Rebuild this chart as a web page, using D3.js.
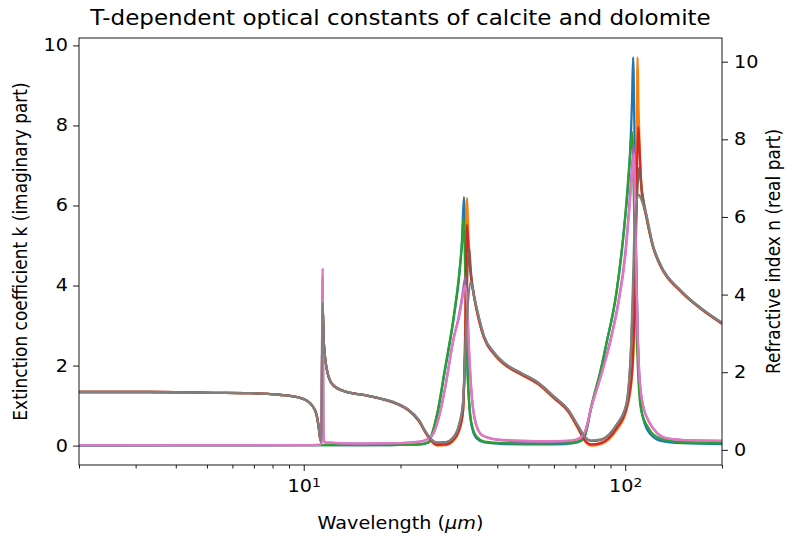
<!DOCTYPE html>
<html>
<head>
<meta charset="utf-8">
<script src="https://cdn.jsdelivr.net/npm/d3@7"></script>
<style>
  body { margin: 0; background: #fff; }
  text { font-family: "DejaVu Sans", sans-serif; }
</style>
</head>
<body>
<div id="chart"></div>
<script>
// values: [wavelength (um), value]
// k = extinction coefficient (left axis), n = refractive index (right axis)
var kBlue = [[2,0],[10,0.01],[15,0.01],[20,0.02],[23,0.03],[24.5,0.08],[25.0,0.25],[26.0,0.75],[27.4,1.8],[29.3,3.2],[30.5,4.3],[31.1,5.2],[31.5,6.21],[31.9,4.4],[32.3,2.1],[32.8,0.9],[33.5,0.4],[34.5,0.18],[36.5,0.08],[42,0.04],[55,0.03],[65,0.04],[71,0.08],[74,0.16],[75,0.25],[78.4,0.95],[84.2,1.92],[87.4,2.54],[93.8,3.79],[99.3,5.46],[103.2,7.1],[105,8.6],[105.8,9.7],[106.8,8.0],[108,5.0],[109.4,2.67],[111.9,1.0],[115,0.55],[118.5,0.33],[129,0.12],[150,0.06],[200,0.04]];
var nOrange = [[2,1.49],[3.3,1.49],[5.2,1.47],[6.8,1.46],[8.4,1.42],[9.4,1.37],[10.1,1.29],[10.6,1.15],[10.95,0.92],[11.1,0.66],[11.25,0.3],[11.35,0.2],[11.45,3.7],[11.55,2.75],[11.85,2.0],[12.3,1.68],[13.5,1.5],[15.5,1.41],[17.1,1.33],[19.4,1.19],[21.2,1.01],[22.8,0.74],[24.0,0.42],[24.9,0.22],[26.0,0.11],[27.7,0.12],[29.1,0.22],[30.4,0.48],[31.3,1.0],[31.7,2.5],[32.0,5.2],[32.2,6.49],[32.5,5.6],[33.0,4.6],[33.7,4.05],[34.5,3.6],[36.4,2.88],[39.1,2.46],[42.0,2.2],[47.4,1.94],[53.6,1.69],[60.0,1.33],[66.5,0.98],[71.6,0.52],[74.9,0.22],[78.4,0.11],[84.2,0.15],[93.8,0.5],[100.7,1.0],[105,1.9],[107.5,4.2],[108.6,7.5],[109.2,10.11],[109.9,8.9],[111,7.6],[112.6,6.7],[116,6.05],[121.9,5.24],[129,4.72],[149,4.08],[172,3.63],[200,3.25]];
var kGreen = [[2,0.01],[10,0.01],[15,0.01],[20,0.02],[23,0.03],[24.5,0.09],[25.0,0.27],[26.0,0.8],[27.4,1.85],[29.3,3.25],[30.5,4.35],[31.1,5.1],[31.4,5.7],[31.9,3.8],[32.3,1.9],[32.8,0.95],[33.5,0.45],[34.5,0.22],[36.5,0.1],[42,0.06],[55,0.05],[65,0.06],[71,0.1],[74,0.18],[75,0.27],[78.4,0.98],[84.2,1.95],[87.4,2.56],[93.8,3.8],[99.3,5.46],[103.2,7.1],[105.1,7.83],[106.5,6.0],[108,3.5],[110,1.6],[112,0.9],[118.5,0.42],[129,0.17],[150,0.09],[200,0.06]];
var nRed = [[2,1.49],[3.3,1.49],[5.2,1.47],[6.8,1.46],[8.4,1.42],[9.4,1.37],[10.1,1.29],[10.6,1.15],[10.95,0.92],[11.1,0.66],[11.25,0.3],[11.35,0.2],[11.45,3.7],[11.55,2.75],[11.85,2.0],[12.3,1.68],[13.5,1.5],[15.5,1.41],[17.1,1.33],[19.4,1.19],[21.2,1.02],[22.8,0.75],[24.0,0.43],[24.9,0.24],[26.0,0.13],[27.7,0.14],[29.1,0.25],[30.4,0.5],[31.3,1.0],[31.8,3.0],[32.2,5.8],[32.6,5.1],[33.1,4.5],[33.7,4.05],[34.5,3.6],[36.4,2.88],[39.1,2.47],[42.0,2.21],[47.4,1.95],[53.6,1.7],[60.0,1.34],[66.5,0.99],[71.6,0.54],[74.9,0.25],[78.4,0.14],[84.2,0.18],[93.8,0.55],[100.7,1.05],[105,2.0],[107.5,4.5],[109.0,7.5],[109.8,8.32],[110.6,7.9],[112.6,6.6],[116,6.05],[121.9,5.24],[129,4.72],[149,4.08],[172,3.63],[200,3.25]];
var kPurple = [[2,0.01],[10,0.01],[11.2,0.02],[11.35,0.05],[11.45,4.2],[11.52,0.3],[11.6,0.08],[15,0.05],[20,0.06],[22.5,0.09],[24.0,0.14],[25.3,0.3],[26.5,0.8],[27.4,1.35],[29.3,2.7],[30.4,3.25],[31.2,3.8],[31.8,4.2],[32.2,3.7],[32.5,2.8],[33.2,1.4],[34.3,0.55],[36,0.25],[40,0.15],[50,0.1],[60,0.1],[68,0.12],[72,0.18],[75,0.35],[78.4,0.95],[84.2,1.78],[90,2.65],[95,3.55],[100,4.8],[103,6.0],[105.5,7.2],[106.3,7.5],[107.5,5.6],[109,3.2],[110.5,1.85],[113,1.1],[118.5,0.6],[125,0.33],[135,0.18],[160,0.13],[200,0.12]];
var nBrown = [[2,1.49],[3.3,1.49],[5.2,1.47],[6.8,1.46],[8.4,1.42],[9.4,1.37],[10.1,1.29],[10.6,1.15],[10.95,0.92],[11.1,0.66],[11.25,0.3],[11.35,0.2],[11.45,3.75],[11.55,2.75],[11.85,2.0],[12.3,1.68],[13.5,1.5],[15.5,1.41],[17.1,1.33],[19.4,1.2],[21.2,1.03],[22.8,0.77],[24.0,0.45],[24.9,0.27],[26.0,0.18],[27.7,0.19],[29.1,0.3],[30.4,0.62],[31.3,1.2],[31.9,2.9],[32.3,4.6],[32.7,5.2],[33.1,4.6],[34.0,3.9],[34.8,3.52],[36.4,2.92],[39.1,2.5],[42.0,2.24],[47.4,1.98],[53.6,1.73],[60.0,1.37],[66.5,1.03],[71.6,0.59],[74.9,0.33],[78.4,0.23],[84.2,0.26],[93.8,0.63],[100.7,1.15],[104.3,2.6],[106.5,4.6],[108.5,6.3],[110.6,7.27],[112.2,6.8],[116,6.1],[121.9,5.27],[129,4.75],[149,4.1],[172,3.65],[200,3.27]];
var kPink = [[2,0.01],[10,0.01],[11.2,0.02],[11.35,0.05],[11.45,4.41],[11.52,0.3],[11.6,0.08],[15,0.05],[20,0.06],[22.5,0.09],[24.0,0.14],[25.3,0.3],[26.5,0.8],[27.4,1.35],[29.3,2.7],[30.4,3.2],[31.2,3.7],[31.8,4.0],[32.2,3.6],[32.5,2.8],[33.2,1.4],[34.3,0.55],[36,0.25],[40,0.15],[50,0.12],[60,0.11],[68,0.13],[72,0.18],[75,0.35],[78.4,0.95],[84.2,1.75],[90,2.6],[95,3.5],[100,4.7],[103,5.9],[105.5,7.0],[106.5,7.3],[107.5,5.5],[109,3.2],[110.5,1.85],[113,1.1],[118.5,0.6],[125,0.33],[135,0.18],[160,0.13],[200,0.12]];
var nGray = [[2,1.49],[3.3,1.49],[5.2,1.47],[6.8,1.46],[8.4,1.42],[9.4,1.37],[10.1,1.29],[10.6,1.15],[10.95,0.92],[11.1,0.66],[11.25,0.3],[11.35,0.2],[11.45,3.79],[11.55,2.75],[11.85,2.0],[12.3,1.68],[13.5,1.5],[15.5,1.41],[17.1,1.33],[19.4,1.2],[21.2,1.03],[22.8,0.77],[24.0,0.45],[24.9,0.27],[26.0,0.19],[27.7,0.2],[29.1,0.31],[30.4,0.64],[31.3,1.23],[31.9,2.8],[32.5,3.9],[33.1,4.33],[34.0,3.9],[34.8,3.52],[36.4,2.92],[39.1,2.5],[42.0,2.24],[47.4,1.98],[53.6,1.73],[60.0,1.37],[66.5,1.03],[71.6,0.59],[74.9,0.33],[78.4,0.24],[84.2,0.27],[93.8,0.64],[100.7,1.16],[104.3,2.7],[105.8,4.4],[107.3,6.0],[110.2,6.57],[112.6,6.42],[116,6.1],[121.9,5.27],[129,4.75],[149,4.1],[172,3.65],[200,3.27]];

var kTicks = [0, 2, 4, 6, 8, 10];
var nTicks = [0, 2, 4, 6, 8, 10];
var xMajorTicks = [10, 100];
var xMinorTicks = [2, 3, 4, 5, 6, 7, 8, 9, 20, 30, 40, 50, 60, 70, 80, 90, 200];
var xDomain = [2, 200];

var titleText = "T-dependent optical constants of calcite and dolomite";
var xLabel = "Wavelength (";
var kLabel = "Extinction coefficient k (imaginary part)";
var nLabel = "Refractive index n (real part)";

// series in draw order, matplotlib colour cycle
var series = [
  {data: kBlue, color: "#1f77b4", axis: "k"},
  {data: nOrange, color: "#ff7f0e", axis: "n"},
  {data: kGreen, color: "#2ca02c", axis: "k"},
  {data: nRed, color: "#d62728", axis: "n"},
  {data: kPurple, color: "#9467bd", axis: "k"},
  {data: nBrown, color: "#8c564b", axis: "n"},
  {data: kPink, color: "#e377c2", axis: "k"},
  {data: nGray, color: "#7f7f7f", axis: "n"}
];

var margin = {top: 38, right: 65, bottom: 73, left: 79},
  width = 787 - margin.left - margin.right,
  height = 538 - margin.top - margin.bottom;

// the reference text looks stretched sideways
var SX = 1.13;
var fs = 17;

var svg = d3.select("#chart")
  .append("svg")
  .attr("width", 787)
  .attr("height", 538);

var g = svg.append("g")
  .attr("transform", "translate(" + margin.left + "," + margin.top + ")");

// matplotlib-like 5% autoscale padding
function padded(arrs) {
  var all = [].concat.apply([], arrs).map(function(d) { return d[1]; });
  var lo = d3.min(all), hi = d3.max(all), r = hi - lo;
  return [lo - 0.05 * r, hi + 0.05 * r];
}

var x = d3.scaleLog().domain(xDomain).range([0, width]);
var yK = d3.scaleLinear()
  .domain(padded(series.filter(function(s) { return s.axis == "k"; }).map(function(s) { return s.data; })))
  .range([height, 0]);
var yN = d3.scaleLinear()
  .domain(padded(series.filter(function(s) { return s.axis == "n"; }).map(function(s) { return s.data; })))
  .range([height, 0]);

g.append("clipPath").attr("id", "clip")
  .append("rect").attr("width", width).attr("height", height);

var lines = g.append("g").attr("clip-path", "url(#clip)");
series.forEach(function(s) {
  var yy = s.axis == "k" ? yK : yN;
  var line = d3.line()
    .x(function(d) { return x(d[0]); })
    .y(function(d) { return yy(d[1]); })
    .curve(d3.curveMonotoneX);
  lines.append("path")
    .datum(s.data)
    .attr("d", line)
    .attr("fill", "none")
    .attr("stroke", s.color)
    .attr("stroke-width", 2.3)
    .attr("stroke-linejoin", "round");
});

// left axis
var gl = g.append("g")
  .call(d3.axisLeft(yK).tickValues(kTicks).tickSize(6).tickPadding(5).tickFormat(d3.format("d")));
// right axis
var gr = g.append("g")
  .attr("transform", "translate(" + width + ",0)")
  .call(d3.axisRight(yN).tickValues(nTicks).tickSize(6).tickPadding(6).tickFormat(d3.format("d")));
// bottom major
var gb = g.append("g")
  .attr("transform", "translate(0," + height + ")")
  .call(d3.axisBottom(x).tickValues(xMajorTicks).tickSize(6).tickPadding(9));
gb.selectAll(".tick text").text(null).each(function(d) {
  var t = d3.select(this);
  t.append("tspan").text("10");
  t.append("tspan").attr("dy", "-0.45em").attr("font-size", "0.72em").text(Math.round(Math.log10(d)));
});
// bottom minor
var gm = g.append("g")
  .attr("transform", "translate(0," + height + ")")
  .call(d3.axisBottom(x).tickValues(xMinorTicks).tickSize(3.5).tickFormat(""));

[gl, gr, gb, gm].forEach(function(a) {
  a.select(".domain").remove();
  a.selectAll(".tick line").attr("stroke", "#000").attr("stroke-width", 0.9);
  a.selectAll(".tick text").attr("fill", "#000").style("font-size", fs + "px")
    .style("font-family", "DejaVu Sans")
    .each(function() {
      var t = d3.select(this), x0 = +t.attr("x") || 0;
      t.attr("x", x0 / SX).attr("transform", "scale(" + SX + ",1)");
    });
});

// frame
g.append("rect")
  .attr("width", width).attr("height", height)
  .attr("fill", "none").attr("stroke", "#000").attr("stroke-width", 0.9);

// title
svg.append("text")
  .attr("transform", "translate(" + (margin.left + width / 2) + ",25) scale(" + SX + ",1)")
  .attr("text-anchor", "middle")
  .attr("font-size", "20.4px")
  .text(titleText);

// x label
var xl = svg.append("text")
  .attr("transform", "translate(" + (margin.left + width / 2) + ",529) scale(" + SX + ",1)")
  .attr("text-anchor", "middle")
  .attr("font-size", fs + "px");
xl.append("tspan").text(xLabel);
xl.append("tspan").attr("font-style", "italic").text("\u03bcm");
xl.append("tspan").text(")");

// y labels
svg.append("text")
  .attr("transform", "translate(27," + (margin.top + height / 2) + ") scale(" + SX + ",1) rotate(-90)")
  .attr("text-anchor", "middle")
  .attr("font-size", fs + "px")
  .text(kLabel);

svg.append("text")
  .attr("transform", "translate(780," + (margin.top + height / 2) + ") scale(" + SX + ",1) rotate(-90)")
  .attr("text-anchor", "middle")
  .attr("font-size", fs + "px")
  .text(nLabel);
</script>
</body>
</html>
